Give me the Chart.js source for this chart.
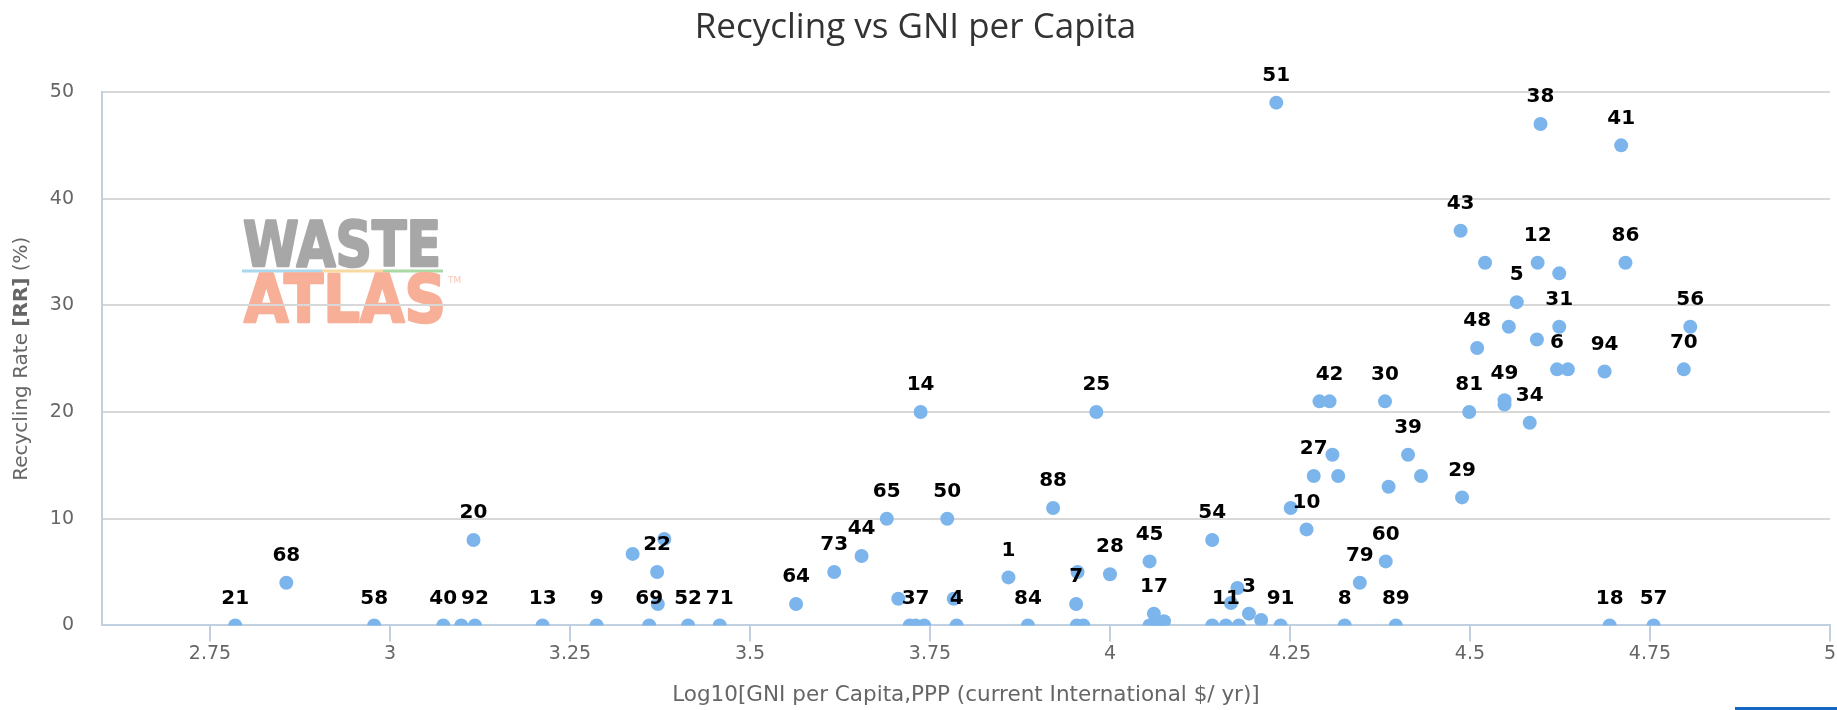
<!DOCTYPE html>
<html>
<head>
<meta charset="utf-8">
<script src="https://cdn.jsdelivr.net/npm/chart.js@4.4.0/dist/chart.umd.min.js"></script>
<style>
html,body{margin:0;padding:0;background:#ffffff;overflow:hidden;}
#wrap{width:1837px;height:710px;position:relative;}
canvas{display:block;}
</style>
</head>
<body>
<div id="wrap"><canvas id="c" width="1837" height="710"></canvas></div>
<script>
// ---- Data ----
const gniLog = [
  2.785, 2.856, 2.978, 3.074, 3.099, 3.118, 3.116, 3.212, 3.287, 3.337,
  3.381, 3.371, 3.372, 3.360, 3.414, 3.458, 3.564, 3.617, 3.655, 3.690,
  3.706, 3.722, 3.730, 3.742, 3.737, 3.774, 3.783, 3.787, 3.859, 3.886,
  3.921, 3.955, 3.953, 3.954, 3.963, 3.981, 4.000, 4.055, 4.061, 4.055,
  4.064, 4.075, 4.070, 4.142, 4.142, 4.161, 4.179, 4.168, 4.177, 4.193,
  4.210, 4.237, 4.231, 4.251, 4.273, 4.283, 4.309, 4.317, 4.291, 4.305,
  4.326, 4.347, 4.383, 4.397, 4.382, 4.387, 4.414, 4.432, 4.489, 4.487,
  4.521, 4.594, 4.624, 4.716, 4.565, 4.624, 4.554, 4.806, 4.510, 4.593,
  4.621, 4.636, 4.687, 4.797, 4.499, 4.548, 4.548, 4.583, 4.598, 4.710,
  4.694, 4.755
];
const recyclingRate = [
  0, 4.0, 0, 0, 0, 0, 8.0, 0, 0, 6.7,
  8.1, 5.0, 2.0, 0, 0, 0, 2.0, 5.0, 6.5, 10.0,
  2.5, 0, 0, 0, 20, 10, 2.5, 0, 4.5, 0,
  11.0, 5.0, 2.0, 0, 0, 20, 4.8, 6.0, 1.1, 0,
  0, 0.4, 0, 8.0, 0, 0, 0, 2.1, 3.5, 1.1,
  0.5, 0, 49, 11, 9, 14, 16, 14, 21, 21,
  0, 4.0, 6.0, 0, 21, 13, 16, 14, 12, 37,
  34, 34, 33, 34, 30.3, 28, 28, 28, 26, 26.8,
  24, 24, 23.8, 24, 20, 21.1, 20.7, 19, 47, 45,
  0, 0
];
const pointLabels = [
  '21','68','58','40','','92','20','13','9','',
  '','22','','69','52','71','64','73','44','65',
  '','','37','','14','50','','4','1','84',
  '88','','7','','','25','28','45','17','',
  '','','','54','','11','','','','3',
  '','91','51','','10','27','','','','42',
  '8','79','60','89','30','','39','','29','43',
  '','12','','86','5','31','','56','48','',
  '6','','94','70','81','49','','34','38','41',
  '18','57'
];
const xTickValues = [2.75, 3, 3.25, 3.5, 3.75, 4, 4.25, 4.5, 4.75, 5];
const yTickValues = [0, 10, 20, 30, 40, 50];

const chartTitle = 'Recycling vs GNI per Capita';
const xAxisTitle = 'Log10[GNI per Capita,PPP (current International $/ yr)]';
const yAxisTitleParts = [['Recycling Rate ', 'normal'], ['[RR]', 'bold'], [' (%)', 'normal']];

const TITLE_FONT = '"Open Sans", "Noto Sans", sans-serif';
const FONT = '"DejaVu Sans", sans-serif';

const watermarkPlugin = {
  id: 'watermark',
  beforeDraw(chart) {
    const ctx = chart.ctx;
    ctx.save();
    function stretched(text, color, left, right, baseline, size) {
      ctx.font = 'bold ' + size + 'px "DejaVu Sans", sans-serif';
      ctx.fillStyle = color;
      ctx.strokeStyle = color;
      ctx.lineWidth = 2.5;
      ctx.lineJoin = 'round';
      ctx.textAlign = 'left';
      ctx.textBaseline = 'alphabetic';
      const w = ctx.measureText(text).width;
      ctx.save();
      ctx.translate(left, baseline);
      ctx.scale((right - left) / w, 1);
      ctx.fillText(text, 0, 0);
      ctx.strokeText(text, 0, 0);
      ctx.restore();
    }
    stretched('WASTE', '#A7A7A7', 243, 441, 266, 63);
    ctx.fillStyle = '#AAD8F0'; ctx.fillRect(242, 269.5, 80, 3);
    ctx.fillStyle = '#F8D9A2'; ctx.fillRect(322, 269.5, 61, 3);
    ctx.fillStyle = '#A9D9A4'; ctx.fillRect(383, 269.5, 60, 3);
    stretched('ATLAS', '#F7AF98', 244, 446, 322, 65);
    ctx.font = '9px "DejaVu Sans", sans-serif';
    ctx.fillStyle = '#F9C6B6';
    ctx.textBaseline = 'top';
    ctx.fillText('TM', 448, 276);
    // bottom-right page bar
    ctx.fillStyle = '#1466C0';
    ctx.fillRect(1735, 707, 102, 3);
    ctx.restore();
  }
};

const dataLabelPlugin = {
  id: 'pointLabels',
  afterDatasetsDraw(chart) {
    const ctx = chart.ctx;
    const meta = chart.getDatasetMeta(0);
    ctx.save();
    ctx.font = 'bold 20px ' + FONT;
    ctx.fillStyle = '#000000';
    ctx.textAlign = 'center';
    ctx.textBaseline = 'middle';
    meta.data.forEach((el, i) => {
      const t = pointLabels[i];
      if (!t) return;
      ctx.fillText(t, el.x, el.y - 27);
    });
    ctx.restore();
  }
};

const yTitlePlugin = {
  id: 'yTitle',
  afterDraw(chart) {
    const ctx = chart.ctx;
    const area = chart.chartArea;
    ctx.save();
    ctx.translate(22, (area.top + area.bottom) / 2);
    ctx.rotate(-Math.PI / 2);
    ctx.fillStyle = '#666666';
    ctx.textBaseline = 'middle';
    ctx.textAlign = 'left';
    let total = 0;
    const widths = yAxisTitleParts.map(([t, w]) => {
      ctx.font = w + ' 20px ' + FONT;
      const m = ctx.measureText(t).width;
      total += m;
      return m;
    });
    let x = -total / 2;
    yAxisTitleParts.forEach(([t, w], i) => {
      ctx.font = w + ' 20px ' + FONT;
      ctx.fillText(t, x, 0);
      x += widths[i];
    });
    ctx.restore();
  }
};

function draw() {
  const ctx = document.getElementById('c').getContext('2d');
  new Chart(ctx, {
    type: 'scatter',
    data: {
      datasets: [{
        data: gniLog.map((x, i) => ({ x: x, y: recyclingRate[i] })),
        backgroundColor: '#7CB5EC',
        borderWidth: 0,
        pointRadius: 7,
        pointHoverRadius: 7
      }]
    },
    options: {
      responsive: false,
      animation: false,
      devicePixelRatio: 1,
      layout: { padding: { left: 0, right: 6, top: 0, bottom: 0 } },
      plugins: {
        legend: { display: false },
        tooltip: { enabled: false },
        title: {
          display: true,
          text: chartTitle,
          color: '#333333',
          font: { family: TITLE_FONT, size: 35, weight: 'normal' },
          padding: { top: 7, bottom: 43 }
        }
      },
      scales: {
        x: {
          type: 'linear',
          min: 2.6,
          max: 5,
          afterBuildTicks: s => { s.ticks = xTickValues.map(v => ({ value: v })); },
          grid: { drawOnChartArea: false, drawTicks: true, tickLength: 16, color: '#C0D0E0', lineWidth: 2 },
          border: { display: true, color: '#C0D0E0', width: 2 },
          ticks: { color: '#666666', font: { family: FONT, size: 19 }, padding: 1, maxRotation: 0, autoSkip: false, callback: v => String(v) },
          title: { display: true, text: xAxisTitle, color: '#666666', font: { family: FONT, size: 21.5 }, padding: { top: 16, bottom: 2 } }
        },
        y: {
          min: 0,
          max: 50,
          afterBuildTicks: s => { s.ticks = yTickValues.map(v => ({ value: v })); },
          afterFit: s => { s.width = 102; },
          grid: { color: '#D8D8D8', lineWidth: 2, drawTicks: false },
          border: { display: true, color: '#C0D0E0', width: 2 },
          ticks: { color: '#666666', font: { family: FONT, size: 19 }, padding: 28 }
        }
      }
    },
    plugins: [watermarkPlugin, dataLabelPlugin, yTitlePlugin]
  });
}

Promise.all([
  document.fonts.load('20px "Open Sans"'),
  document.fonts.load('20px "DejaVu Sans"'),
  document.fonts.load('bold 20px "DejaVu Sans"')
]).then(draw, draw);
</script>
</body>
</html>
